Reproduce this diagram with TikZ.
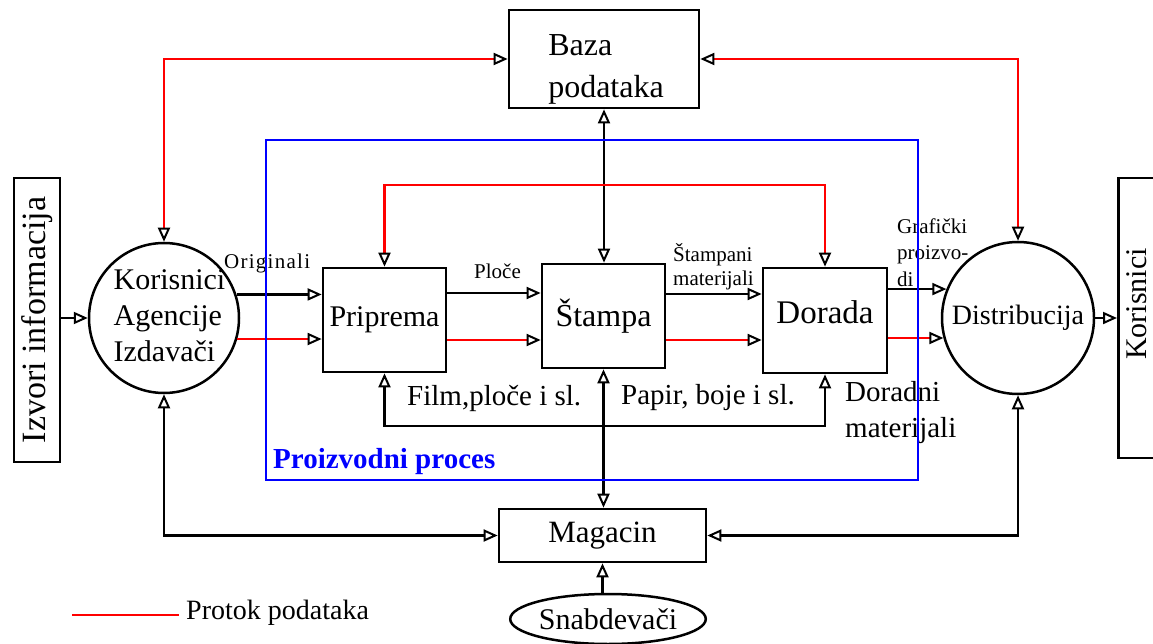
\documentclass[tikz,border=0pt]{standalone}
\usepackage{fontspec}
\setmainfont{Liberation Serif}
\usetikzlibrary{arrows.meta,shapes.geometric}
\newcommand\fsz[2]{\fontsize{#1}{#2}\selectfont}
\begin{document}
\begin{tikzpicture}[x=1pt,y=-1pt,
  >={Triangle[open,length=14pt,width=12pt,line width=2pt,color=black]},
  box/.style={draw,line width=2.7pt,inner sep=0pt},
  circ/.style={draw,circle,line width=2.5pt,inner sep=0pt},
  conn/.style={line width=2.4pt,black},
  dataflow/.style={line width=2.4pt,red},
  lbl/.style={inner sep=0pt}]
\useasboundingbox (0,0) rectangle (1153,644);
\clip (0,0) rectangle (1153,644);
\fill[white] (0,0) rectangle (1153,644);

% nodes
\node[box,minimum width=190pt,minimum height=98pt] (baza) at (604,59) {};
\node[lbl,align=left,font=\fsz{32}{42}] (bazat) at (606,69) {Baza\\podataka};

\node[box,minimum width=123pt,minimum height=104pt,font=\fsz{30}{36}] (priprema) at (384.5,320) {Priprema};
\node[box,minimum width=123pt,minimum height=104pt,font=\fsz{32}{38}] (stampa) at (603.5,316) {Štampa};
\node[box,minimum width=124pt,minimum height=105pt,font=\fsz{33}{40},text height=22pt,text depth=17pt] (dorada) at (825,320.5) {Dorada};

\node[circ,minimum size=150pt] (kai) at (164,318) {};
\node[lbl,align=left,font=\fsz{30}{36}] (kait) at (169.5,316) {Korisnici\\Agencije\\Izdavači};
\node[circ,minimum size=152pt,font=\fsz{28}{34}] (dist) at (1018,318) {Distribucija};

\node[box,rotate=90,minimum width=284pt,minimum height=46pt,font=\fsz{34}{40}] (izvori) at (37,320) {Izvori informacija};
\node[box,minimum width=100pt,minimum height=280pt,anchor=west] (korb) at (1117,318) {};
\node[lbl,rotate=90,font=\fsz{30}{36}] (korbt) at (1136.5,304) {Korisnici};

\node[box,minimum width=207pt,minimum height=53pt,font=\fsz{31}{37}] (magacin) at (602.5,535.5) {Magacin};
\node[draw,ellipse,line width=2.5pt,inner sep=0pt,minimum width=188pt,minimum height=50pt,font=\fsz{30}{36}] (snab) at (608,619) {Snabdevači};

% labels
\node[lbl,anchor=base west,font=\fsz{21}{24}\addfontfeature{LetterSpace=6}] (orig) at (224,269) {Originali};
\node[lbl,anchor=base west,font=\fsz{21}{24}] (ploce) at (474,279) {Ploče};
\node[lbl,anchor=west,align=left,font=\fsz{21}{24}] (stmat) at (673,267) {Štampani\\materijali};
\node[lbl,anchor=west,align=left,font=\fsz{21}{26.5}] (graf) at (897,252.5) {Grafički\\proizvo-\\di};
\node[lbl,anchor=base west,font=\fsz{29}{35}] (film) at (407,405) {Film,ploče i sl.};
\node[lbl,anchor=base west,font=\fsz{29}{35}] (papir) at (621,404) {Papir, boje i sl.};
\node[lbl,anchor=west,align=left,font=\fsz{29}{36}] (dorm) at (845,413) {Doradni\\materijali};
\node[lbl,anchor=base west,font=\fsz{28}{34}] (protok) at (186,619) {Protok podataka};

% black flows
\draw[conn,->] (kai.18.7) -- (kai.18.7 -| priprema.west);
\draw[conn,->] ([yshift=27pt]priprema.east) -- ([yshift=27pt]priprema.east -| stampa.west);
\draw[conn,->] ([yshift=22pt]stampa.east) -- ([yshift=22pt]stampa.east -| dorada.west);
\draw[conn,->] (dorada.east |- dist.158.4) -- (dist.158.4);
\draw[conn,->] (izvori.south |- kai.west) -- (kai.west);
\draw[conn,->] (dist.east) -- (dist.east -| korb.west);
\draw[conn,<->] (baza.south) -- (baza.south |- stampa.north);
\draw[conn,<->] (stampa.south) -- (stampa.south |- magacin.north);
\coordinate (mat) at (603.5,426);
\draw[conn,<->] (priprema.south) |- (mat) -| (dorada.south);
\draw[conn,<->] (kai.south) |- (magacin.west);
\draw[conn,<->] (dist.south) |- (magacin.east);
\draw[conn,->] (magacin.south |- snab.north) -- (magacin.south);

% red data flows
\draw[dataflow,->] (kai.-16.3) -- (kai.-16.3 -| priprema.west);
\draw[dataflow,->] ([yshift=-20pt]priprema.east) -- ([yshift=-20pt]priprema.east -| stampa.west);
\draw[dataflow,->] ([yshift=-24pt]stampa.east) -- ([yshift=-24pt]stampa.east -| dorada.west);
\draw[dataflow,->] (dorada.east |- dist.-165.5) -- (dist.-165.5);
\draw[dataflow,<->] (kai.north) |- (baza.west);
\draw[dataflow,<->] (baza.east) -| (dist.north);
\coordinate (loop) at (603.5,185);
\draw[dataflow,<->] (priprema.north) |- (loop) -| (dorada.north);

% legend
\coordinate (lgA) at (72,615);
\coordinate (lgB) at (179,615);
\draw[dataflow] (lgA) -- (lgB);

% production process frame
\node[draw=blue,line width=2.2pt,minimum width=652pt,minimum height=340pt,inner sep=0pt] (proc) at (592,310) {};
\node[lbl,anchor=base west,text=blue,font=\bfseries\fsz{29}{35}] (proct) at (273,468) {Proizvodni proces};
\end{tikzpicture}
\end{document}
